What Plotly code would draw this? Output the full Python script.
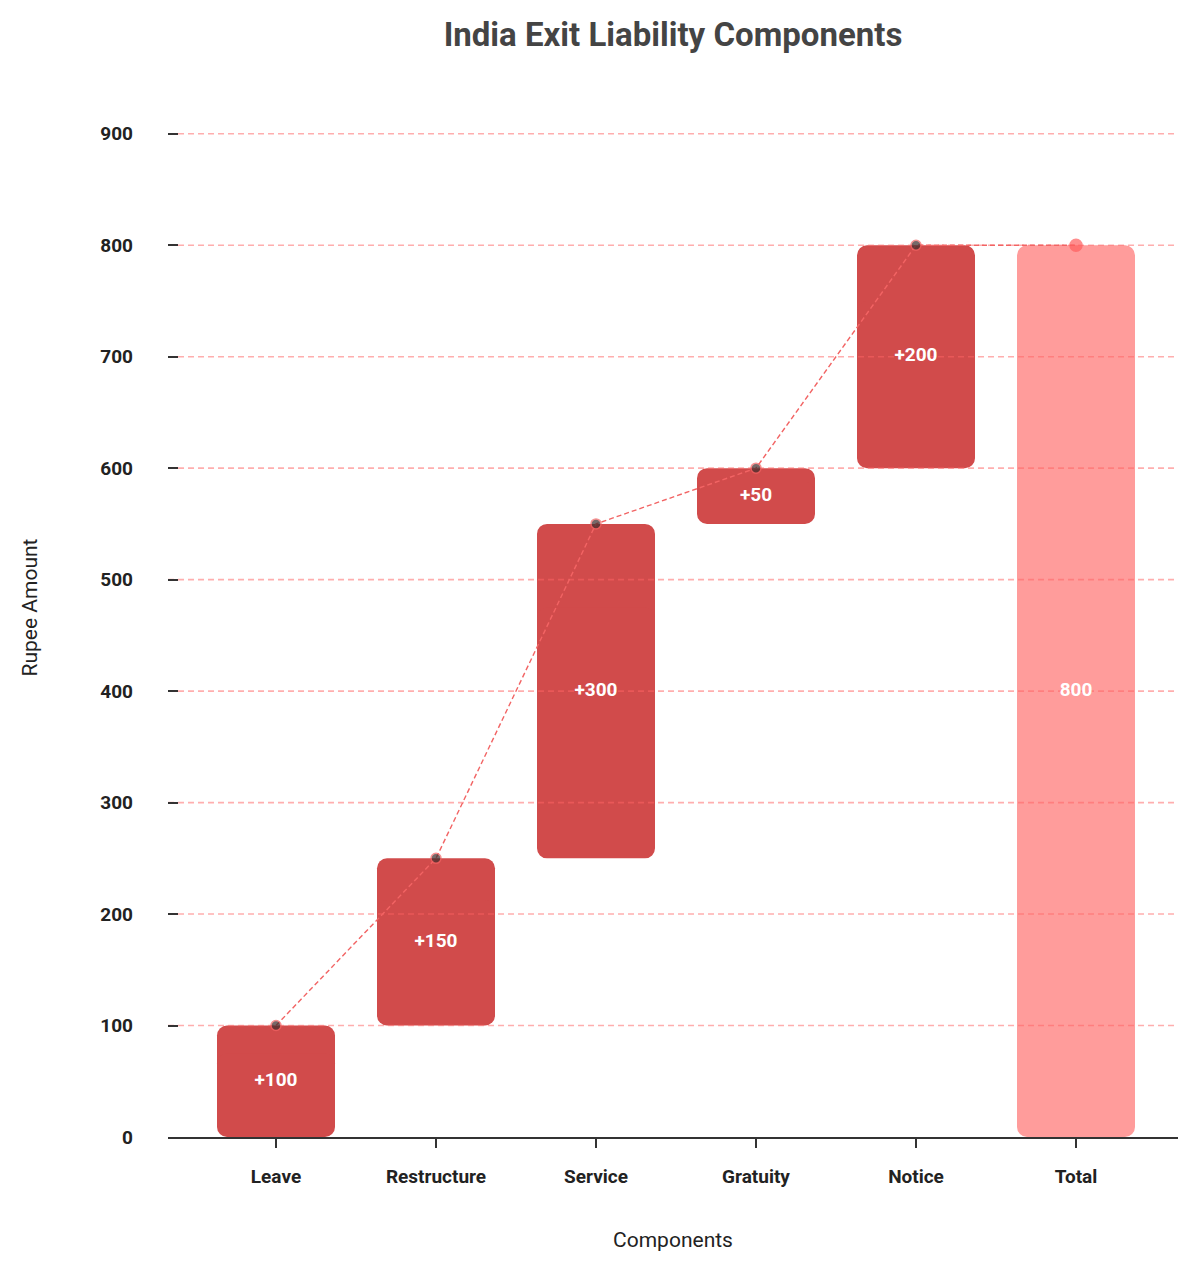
import plotly.graph_objects as go

categories = ["Leave", "Restructure", "Service", "Gratuity", "Notice", "Total"]
deltas = [100, 150, 300, 50, 200]
total = 800
y_ticks = [0, 100, 200, 300, 400, 500, 600, 700, 800, 900]

inc_color = "#d14b4b"
total_color = "#ff9c9b"
line_color = "#f26464"
grid_color = "rgba(255,100,100,0.52)"
font_fam = "Roboto, Arial, sans-serif"

# x range chosen so that 1 category = 160px and bar edges sit on whole pixels
x_range = [-0.675, 5.6375]

# cumulative starts / ends for the floating bars
starts = []
ends = []
run = 0
for d in deltas:
    starts.append(run)
    run += d
    ends.append(run)

bar_starts = starts + [0]
bar_sizes = deltas + [total]
bar_colors = [inc_color] * len(deltas) + [total_color]
labels = ["+" + str(d) for d in deltas] + [str(total)]
idx = list(range(len(categories)))

fig = go.Figure()

# every bar is drawn as two overlapping pieces so that both ends get rounded corners
for cat, s, h, col in zip(categories, bar_starts, bar_sizes, bar_colors):
    fig.add_trace(go.Bar(
        x=[cat], y=[h * 0.75], base=[s + h * 0.25],
        marker=dict(color=col, cornerradius=10, line=dict(width=0)),
        width=0.7375, showlegend=False, hoverinfo="skip"))
    fig.add_trace(go.Bar(
        x=[cat], y=[-h * 0.75], base=[s + h * 0.75],
        marker=dict(color=col, cornerradius=10, line=dict(width=0)),
        width=0.7375, showlegend=False, hoverinfo="skip"))

# grid lines sit on top of the bars -> draw them on an overlaying axis
gx, gy = [], []
for v in y_ticks[1:]:
    gx += [x_range[0], x_range[1], None]
    gy += [v, v, None]
fig.add_trace(go.Scatter(
    x=gx, y=gy, xaxis="x2", mode="lines",
    line=dict(color=grid_color, width=1.6, dash="6px,4px"),
    showlegend=False, hoverinfo="skip"))

# connector line with dots at the running totals
conn_y = ends + [total]
fig.add_trace(go.Scatter(
    x=idx, y=conn_y, xaxis="x2", mode="lines+markers",
    line=dict(color=line_color, width=1.4, dash="5px,3px"),
    marker=dict(
        color=["#3b2b2b"] * len(deltas) + ["#ff5f5f"],
        size=[10] * len(deltas) + [12],
        line=dict(color=[line_color] * len(deltas) + ["#ff5f5f"], width=1.5)),
    showlegend=False, hoverinfo="skip"))

# value labels in the middle of each bar
mids = [s + h / 2 for s, h in zip(bar_starts, bar_sizes)]
fig.add_trace(go.Scatter(
    x=idx, y=mids, xaxis="x2", mode="text", text=labels,
    textfont=dict(color="white", size=19, family=font_fam, weight="bold"),
    showlegend=False, hoverinfo="skip"))

fig.update_layout(
    width=1200, height=1274,
    barmode="overlay",
    plot_bgcolor="white", paper_bgcolor="white",
    margin=dict(l=160, r=30, t=70, b=145),
    font=dict(family=font_fam, color="#222222"),
    title=dict(text="<b>India Exit Liability Components</b>",
               x=0.5, xref="paper", y=1 - 26 / 1274, yref="container",
               xanchor="center", yanchor="middle",
               font=dict(size=33, color="#444444", family=font_fam)),
    xaxis=dict(
        type="category", range=x_range,
        showline=True, linecolor="#333333", linewidth=2,
        ticks="outside", ticklen=9, tickwidth=2, tickcolor="#333333",
        ticklabelstandoff=12,
        tickfont=dict(size=19, color="#222222", family=font_fam, weight="bold"),
        showgrid=False,
        title=dict(text="Components", font=dict(size=21, color="#222222"), standoff=46),
    ),
    xaxis2=dict(overlaying="x", range=x_range, visible=False, showgrid=False),
    yaxis=dict(
        range=[0, 950], tickvals=y_ticks,
        showline=False, zeroline=False,
        ticks="inside", ticklen=10, tickwidth=2, tickcolor="#333333",
        ticklabelstandoff=34,
        tickfont=dict(size=19, color="#222222", family=font_fam, weight="bold"),
        showgrid=False,
        title=dict(text="Rupee Amount", font=dict(size=21, color="#222222"), standoff=56),
    ),
)

fig.write_html("out.html")
